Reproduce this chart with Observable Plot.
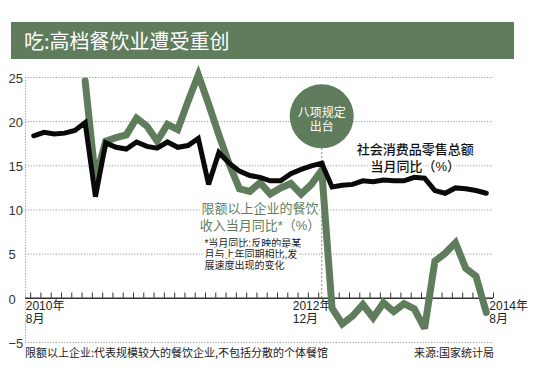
<!DOCTYPE html>
<html>
<head>
<meta charset="utf-8">
<script src="https://cdn.jsdelivr.net/npm/d3@7"></script>
<script src="https://cdn.jsdelivr.net/npm/@observablehq/plot@0.6"></script>
<style>
  html, body { margin: 0; padding: 0; background: #fff; }
  #wrap { position: relative; width: 550px; height: 375px; overflow: hidden;
          font-family: "Liberation Sans", "Noto Sans CJK SC", sans-serif; }
  #title { position: absolute; left: 11px; top: 22px; width: 503px; height: 37px;
           background: #5f7d5c; color: #fff; font-family: "Noto Sans CJK SC", sans-serif;
           font-size: 20px; line-height: 37px; box-sizing: border-box; padding-left: 13px; }
  .foot { position: absolute; top: 344px; font-size: 11px; color: #222; line-height: 16px;
          font-family: "Noto Sans CJK SC", sans-serif; }
  #chart { position: absolute; left: 0; top: 0; }
</style>
</head>
<body>
<div id="wrap">
  <div id="chart"></div>
  <div id="title">吃:高档餐饮业遭受重创</div>
  <div class="foot" style="left:25px;">限额以上企业:代表规模较大的餐饮企业,不包括分散的个体餐馆</div>
  <div class="foot" style="right:56px;">来源:国家统计局</div>
</div>
<script>
// monthly points, 2010年8月 … 2014年8月 (index along the time axis)
const period = d3.range(45);
// 社会消费品零售总额 当月同比(%)
const retail = [18.4, 18.8, 18.6, 18.7, 19.0, 19.9, 11.5, 17.6, 17.1, 16.9,
                17.7, 17.2, 17.0, 17.7, 17.1, 17.3, 18.1, 12.9, 16.5, 15.3,
                14.4, 13.9, 13.7, 13.3, 13.3, 14.1, 14.6, 15.0, 15.3, 12.6,
                12.8, 12.9, 13.3, 13.2, 13.4, 13.3, 13.3, 13.7, 13.6, 12.2,
                11.9, 12.5, 12.4, 12.2, 11.9];
// 限额以上企业的餐饮收入当月同比(%)
const catering = [null, null, null, null, null, 24.6, 13.5, 17.8, 18.2, 18.5,
                  20.4, 19.5, 17.8, 19.7, 19.1, 22.3, 25.3, 22.0, 18.5, 15.2,
                  12.4, 12.1, 13.1, 11.8, 12.5, 13.0, 11.8, 12.9, 14.5, -1.1,
                  -2.9, -2.0, -0.7, -2.2, -0.5, -1.5, -0.6, -1.2, -3.4, 4.2,
                  5.1, 6.3, 3.4, 2.5, -1.6];
const yTicks = [-5, 0, 5, 10, 15, 20, 25];
const gridVals = [-5, 5, 10, 15, 20, 25];
const axisTicks = d3.range(46);
const xLabels = ["2010年\n8月", "2012年\n12月", "2014年\n8月"];
const xLabelAt = [0, 28, 44];
const policyAt = 28;          // 2012年12月 八项规定出台
const policyText = "八项规定\n出台";

const rows = period.map((i) => ({i, retail: retail[i], catering: catering[i]}));
const xDomain = [-0.8, 44.7];
const green = "#5f7d5c";
const fmt = (d) => (d < 0 ? "\u2212" + Math.abs(d) : String(d));
const latinFirst = "'Liberation Sans', 'Noto Sans CJK SC', sans-serif";

const chart = Plot.plot({
  width: 550,
  height: 375,
  marginTop: 77,
  marginBottom: 33,
  marginLeft: 25,
  marginRight: 57,
  style: {fontFamily: latinFirst, fontSize: "12px", background: "transparent", overflow: "visible"},
  x: {domain: xDomain, axis: null},
  y: {domain: [-5, 25], axis: null},
  marks: [
    Plot.ruleY(gridVals, {stroke: "#9a9a9a", strokeDasharray: "1.2,1.6", strokeWidth: 1}),
    Plot.ruleX([xDomain[0]], {stroke: "#9a9a9a", strokeDasharray: "1.2,1.6", strokeWidth: 1}),
    Plot.ruleX([policyAt], {x: (d) => d, y1: 0, y2: 17, stroke: "#888", strokeDasharray: "2,2", strokeWidth: 1}),
    Plot.ruleY([0], {stroke: "#333", strokeWidth: 1.5}),
    Plot.ruleX(axisTicks, {x: (d) => d - 0.3, y1: 0, y2: 0.6, stroke: "#333", strokeWidth: 1}),
    Plot.text(yTicks, {x: xDomain[0], y: (d) => d, text: fmt, textAnchor: "start", dx: -17, dy: 1, fontSize: 13, fill: "#333"}),
    Plot.text([xLabels[0]], {x: xLabelAt[0], y: 0, text: (d) => d, textAnchor: "start", lineAnchor: "top", dx: -8, dy: 3, lineHeight: 1.05, fontSize: 12, fill: "#222"}),
    Plot.text([xLabels[1]], {x: xLabelAt[1], y: 0, text: (d) => d, textAnchor: "start", lineAnchor: "top", dx: -29, dy: 3, lineHeight: 1.05, fontSize: 12, fill: "#222"}),
    Plot.text([xLabels[2]], {x: xLabelAt[2], y: 0, text: (d) => d, textAnchor: "start", lineAnchor: "top", dx: 3, dy: 3, lineHeight: 1.05, fontSize: 12, fill: "#222"}),
    // series labels and note
    Plot.text(["社会消费品零售总额\n当月同比（%）"], {x: 37.1, y: 15.96, text: (d) => d, fontSize: 13, lineHeight: 1.25, fill: "#111", fontWeight: 500,
      fontFamily: latinFirst, stroke: "white", strokeWidth: 5, paintOrder: "stroke"}),
    Plot.text(["限额以上企业的餐饮\n收入当月同比*（%）"], {x: 22.0, y: 9.34, text: (d) => d, fontSize: 13, lineHeight: 1.3, fill: green,
      fontFamily: latinFirst, stroke: "white", strokeWidth: 5, paintOrder: "stroke"}),
    Plot.text(["*当月同比:反映的是某\n月与上年同期相比,发\n展速度出现的变化"], {x: 16.6, y: 5.0, text: (d) => d, textAnchor: "start", fontSize: 10, lineHeight: 1.12, fill: "#222",
      fontFamily: latinFirst, stroke: "white", strokeWidth: 5, paintOrder: "stroke"}),
    // series
    Plot.line(rows, {x: "i", y: "catering", stroke: green, strokeWidth: 7, strokeLinejoin: "miter", strokeMiterlimit: 3}),
    Plot.line(rows, {x: "i", y: "retail", stroke: "#0a0a0a", strokeWidth: 5, strokeLinejoin: "miter", strokeMiterlimit: 3}),
    // policy bubble
    Plot.dot([policyAt], {x: (d) => d, y: 20.6, r: 32, fill: green, stroke: "none"}),
    Plot.text([policyText], {x: policyAt, y: 20.6, text: (d) => d, dy: 3, fontSize: 12, lineHeight: 1.22, fill: "white",
      fontFamily: latinFirst})
  ]
});
document.getElementById("chart").appendChild(chart);
</script>
</body>
</html>
